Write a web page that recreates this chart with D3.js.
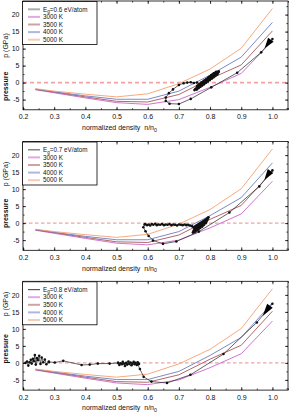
<!DOCTYPE html>
<html><head><meta charset="utf-8">
<script src="https://cdn.jsdelivr.net/npm/d3@7"></script>
<style>body{margin:0;background:#fff}svg{display:block}text{font-family:"Liberation Sans",Arial,sans-serif;fill:#111}</style>
</head><body><svg id="c" width="289" height="412"></svg>
<script>
// ---------- data ----------
const rho = [0.24, 0.3, 0.4, 0.5, 0.6, 0.7, 0.8, 0.9, 1.0];
const p3000 = [-2.1, -3.0, -4.5, -5.9, -6.4, -5.0, -1.4, 2.7, 12.3];
const p3500 = [-2.0, -2.8, -4.2, -5.5, -5.7, -3.5, 1.1, 5.2, 15.2];
const p4000 = [-1.9, -2.7, -3.9, -4.9, -4.9, -2.5, 2.2, 7.5, 17.7];
const p5000 = [-1.8, -2.5, -3.4, -4.2, -3.3, -0.3, 4.0, 10.1, 21.8];
const tempLabels = ["3000 K", "3500 K", "4000 K", "5000 K"];
const egValues = ["0.6", "0.7", "0.8"];
const xTicks = [0.2, 0.3, 0.4, 0.5, 0.6, 0.7, 0.8, 0.9, 1.0];
const yTicks = [-5, 0, 5, 10, 15, 20];

// Eg = 0.6 eV/atom trajectory
const traj06 = [[1.0,12.8],[0.964,8.9],[0.887,2.9],[0.804,-1.4],[0.738,-4.8],[0.70,-6.3],[0.67,-6.2],[0.658,-5.4],[0.658,-4.4],[0.668,-3.1],[0.681,-2.0],[0.70,-0.7],[0.715,-0.2],[0.727,0.0],[0.738,0.1],[0.748,-0.1],[0.758,0.0]];
const band06 = [[0.750,-2.2],[0.754,-1.8],[0.757,-2.0],[0.760,-1.4],[0.763,-1.6],[0.766,-1.0],[0.769,-1.2],[0.772,-0.6],[0.775,-0.8],[0.778,-0.2],[0.781,-0.4],[0.784,0.2],[0.787,0.0],[0.790,0.6],[0.793,0.4],[0.796,1.0],[0.799,0.8],[0.802,1.4],[0.805,1.2],[0.808,1.8],[0.811,1.6],[0.814,2.2],[0.817,2.0],[0.820,2.6],[0.823,2.4],[0.826,3.0],[0.828,3.3],[0.758,-1.0],[0.765,-0.5],[0.772,0.0],[0.780,0.5],[0.788,1.0],[0.796,1.6],[0.804,2.2],[0.812,2.7],[0.820,3.2]];
const arrow06 = [[0.975,10.1],[0.995,12.6]];

// Eg = 0.7 eV/atom trajectory
const traj07 = [[1.0,15.5],[0.958,10.8],[0.862,3.1],[0.764,-2.5],[0.692,-5.4],[0.649,-6.1],[0.617,-5.1],[0.603,-3.8],[0.593,-2.4],[0.586,-1.2],[0.59,-0.4]];
const flat07 = [[0.592,-0.3],[0.598,-0.6],[0.603,-0.4],[0.608,-0.7],[0.613,-0.3],[0.618,-0.5],[0.624,-0.2],[0.629,-0.6],[0.634,-0.4],[0.640,-0.5],[0.646,-0.3],[0.652,-0.6],[0.658,-0.4],[0.664,-0.5],[0.670,-0.3],[0.676,-0.6],[0.682,-0.4],[0.688,-0.5],[0.694,-0.7],[0.700,-0.4],[0.706,-0.5],[0.712,-0.6],[0.718,-0.4],[0.724,-0.6],[0.730,-0.5],[0.736,-0.7],[0.742,-0.9]];
const band07 = [[0.745,-2.8],[0.748,-2.2],[0.751,-2.5],[0.754,-1.8],[0.757,-2.1],[0.760,-1.4],[0.763,-1.7],[0.766,-1.0],[0.769,-1.3],[0.772,-0.6],[0.775,-0.9],[0.778,-0.2],[0.781,-0.4],[0.784,0.3],[0.787,0.1],[0.790,0.8],[0.792,1.2],[0.795,1.7],[0.750,-1.6],[0.758,-1.1],[0.766,-0.5],[0.774,0.0],[0.782,0.6],[0.790,1.3],[0.747,-1.2],[0.755,-0.9]];
const arrow07 = [[0.974,12.7],[0.994,15.3]];

// Eg = 0.8 eV/atom trajectory
const traj08 = [[1.0,17.4],[0.95,11.9],[0.843,2.6],[0.737,-3.5],[0.662,-5.9],[0.612,-5.5],[0.587,-4.1],[0.575,-1.8],[0.568,-0.4]];
const clus08 = [[0.572,-0.3],[0.568,0.2],[0.565,-0.6],[0.561,0.0],[0.558,-0.4],[0.555,0.3],[0.551,-0.2],[0.548,-0.7],[0.545,0.1],[0.541,-0.3],[0.538,0.4],[0.534,-0.5],[0.531,0.0],[0.527,-0.9],[0.524,-0.2],[0.520,0.3],[0.517,-0.4],[0.513,-0.1],[0.509,-0.6],[0.505,0.0]];
const sparse08 = [[0.505,0.0],[0.478,-0.2],[0.44,-0.2],[0.414,-0.5],[0.388,-0.6],[0.329,0.6],[0.302,0.1],[0.283,0.3]];
const left08 = [[0.283,0.3],[0.275,-0.4],[0.27,1.0],[0.265,0.2],[0.26,1.6],[0.256,-0.3],[0.252,2.1],[0.248,0.8],[0.245,1.4],[0.241,-0.5],[0.238,2.3],[0.235,0.5],[0.232,1.2],[0.228,-0.2],[0.225,0.9],[0.221,0.2],[0.217,-0.8],[0.213,0.4],[0.208,0.0]];
const arrow08 = [[0.969,13.8],[0.992,16.8]];

// ---------- layout / style ----------
const panelTops = [1, 141.5, 281.3];
const plotH = 108.8;
const xLeft = 23, xRight = 288;
const isoColors = ["#c865c8", "#a8575a", "#6d7dc0", "#f5a070"];
const isoSeries = [p3000, p3500, p4000, p5000];
const yLabelPos = [[45.5, 86.3], [174, 213.3], [304, 348.8]];
const zeroStyles = [{c:"#f3a3a3", w:1.6, d:"4,3"}, {c:"#e07272", w:0.8, d:"3.5,2.5"}, {c:"#e07272", w:0.8, d:"3.5,2.5"}];
const legendFirst = [{c:"#999", w:2, o:0.8}, {c:"#666", w:1.2, o:1}, {c:"#555", w:1.2, o:1}];

const panels = [
  {eg: egValues[0], lines: [traj06], dots: [traj06, band06], bandLines: [band06], arrow: arrow06},
  {eg: egValues[1], lines: [traj07, flat07], dots: [traj07, flat07, band07], bandLines: [band07], arrow: arrow07},
  {eg: egValues[2], lines: [traj08, clus08, sparse08, left08], dots: [traj08, clus08, sparse08, left08], bandLines: [], arrow: arrow08}
];

const svg = d3.select("#c");
const x = d3.scaleLinear().domain([0.2, 1.05]).range([xLeft, xRight]);
const fs = 7;

panels.forEach((pan, i) => {
  const top = panelTops[i];
  const y = d3.scaleLinear().domain([-8, 24]).range([top + plotH, top]);
  const g = svg.append("g");
  const clipId = "clip" + i;
  svg.append("clipPath").attr("id", clipId).append("rect")
    .attr("x", xLeft).attr("y", top).attr("width", xRight - xLeft).attr("height", plotH);
  const plot = g.append("g").attr("clip-path", `url(#${clipId})`);

  const zs = zeroStyles[i];
  plot.append("line").attr("x1", xLeft).attr("x2", xRight).attr("y1", y(0)).attr("y2", y(0))
    .attr("stroke", zs.c).attr("stroke-width", zs.w).attr("stroke-dasharray", zs.d);

  const line = d3.line().x(d => x(d[0])).y(d => y(d[1]));
  isoSeries.forEach((ser, k) => {
    plot.append("path").datum(rho.map((r, j) => [r, ser[j]]))
      .attr("d", line).attr("fill", "none").attr("stroke", isoColors[k]).attr("stroke-width", 0.9);
  });

  pan.lines.forEach(tr => {
    plot.append("path").datum(tr).attr("d", line).attr("fill", "none")
      .attr("stroke", "#222").attr("stroke-width", 0.7);
  });
  pan.bandLines.forEach(tr => {
    plot.append("path").datum(tr).attr("d", line).attr("fill", "none")
      .attr("stroke", "#111").attr("stroke-width", 2.2);
  });
  pan.dots.forEach(tr => {
    plot.selectAll(null).data(tr).enter().append("circle")
      .attr("cx", d => x(d[0])).attr("cy", d => y(d[1])).attr("r", 1.3).attr("fill", "#111");
  });

  const tip = [x(pan.arrow[0][0]), y(pan.arrow[0][1])];
  const base = [x(pan.arrow[1][0]), y(pan.arrow[1][1])];
  const dx = tip[0] - base[0], dy = tip[1] - base[1];
  const len = Math.hypot(dx, dy);
  const nx = -dy / len * 3.4, ny = dx / len * 3.4;
  plot.append("path")
    .attr("d", `M${tip[0]},${tip[1]}L${base[0] + nx},${base[1] + ny}L${base[0] - nx},${base[1] - ny}Z`)
    .attr("fill", "#000");

  const xMinor = d3.range(0.2, 1.051, 0.05);
  const yMinor = d3.range(-7.5, 24.01, 2.5);
  const styleAxis = a => { a.select(".domain").remove(); a.selectAll("line").attr("stroke", "#000").attr("stroke-width", 0.7); a.selectAll("text").attr("font-size", fs).attr("font-family", '"Liberation Sans",Arial,sans-serif').attr("fill", "#111"); };

  g.append("g").attr("transform", `translate(0,${top + plotH})`)
    .call(d3.axisBottom(x).tickValues(xMinor).tickSize(-1.6).tickFormat("")).call(styleAxis);
  g.append("g").attr("transform", `translate(0,${top + plotH})`)
    .call(d3.axisBottom(x).tickValues(xTicks).tickSize(-3).tickPadding(4.5).tickFormat(d3.format(".1f"))).call(styleAxis);
  g.append("g").attr("transform", `translate(0,${top})`)
    .call(d3.axisTop(x).tickValues(xMinor).tickSize(-1.6).tickFormat("")).call(styleAxis);
  g.append("g").attr("transform", `translate(0,${top})`)
    .call(d3.axisTop(x).tickValues(xTicks).tickSize(-3).tickFormat("")).call(styleAxis);

  g.append("g").attr("transform", `translate(${xLeft},0)`)
    .call(d3.axisLeft(y).tickValues(yMinor).tickSize(-1.6).tickFormat("")).call(styleAxis);
  g.append("g").attr("transform", `translate(${xLeft},0)`)
    .call(d3.axisLeft(y).tickValues(yTicks).tickSize(-3).tickPadding(3.5).tickFormat(d => d < 0 ? "-" + Math.abs(d) : d)).call(styleAxis);
  g.append("g").attr("transform", `translate(${xRight},0)`)
    .call(d3.axisRight(y).tickValues(yMinor).tickSize(-1.6).tickFormat("")).call(styleAxis);
  g.append("g").attr("transform", `translate(${xRight},0)`)
    .call(d3.axisRight(y).tickValues(yTicks).tickSize(-3).tickFormat("")).call(styleAxis);

  g.append("rect").attr("x", xLeft).attr("y", top).attr("width", xRight - xLeft).attr("height", plotH)
    .attr("fill", "none").attr("stroke", "#000").attr("stroke-width", 0.8);

  const xt = g.append("text").attr("x", 82).attr("y", top + plotH + 20.3).attr("font-size", fs);
  xt.append("tspan").text("normalized density\u00a0\u00a0n/n");
  xt.append("tspan").attr("font-size", fs * 0.75).attr("dy", 1.8).text("0");

  const yl = yLabelPos[i];
  g.append("text").attr("transform", `translate(7.5,${yl[0]}) rotate(-90)`).attr("text-anchor", "middle")
    .attr("font-size", fs).text("p (GPa)");
  g.append("text").attr("transform", `translate(7.5,${yl[1]}) rotate(-90)`).attr("text-anchor", "middle")
    .attr("font-size", fs).attr("font-weight", "bold").attr("fill", "#222").text("pressure");

  const lg = g.append("g");
  lg.append("rect").attr("x", 22.5).attr("y", top + 0.5).attr("width", 74.5).attr("height", 43)
    .attr("fill", "#fff").attr("stroke", "#000").attr("stroke-width", 0.8);
  const rows = [{label: null, c: legendFirst[i].c, w: legendFirst[i].w, o: legendFirst[i].o}]
    .concat(tempLabels.map((t, k) => ({label: t, c: isoColors[k], w: 2, o: 0.55})));
  rows.forEach((r, k) => {
    const ry = top + 8.3 + k * 7.6;
    lg.append("line").attr("x1", 28).attr("x2", 40).attr("y1", ry).attr("y2", ry)
      .attr("stroke", r.c).attr("stroke-width", r.w).attr("stroke-opacity", r.o);
    const t = lg.append("text").attr("x", 43).attr("y", ry).attr("dy", "0.35em").attr("font-size", 6.3);
    if (r.label === null) {
      t.append("tspan").text("E");
      t.append("tspan").attr("font-size", 4.6).attr("dy", 1.5).text("g");
      t.append("tspan").attr("dy", -1.5).text("=" + pan.eg + " eV/atom");
    } else {
      t.text(r.label);
    }
  });
});
</script></body></html>
